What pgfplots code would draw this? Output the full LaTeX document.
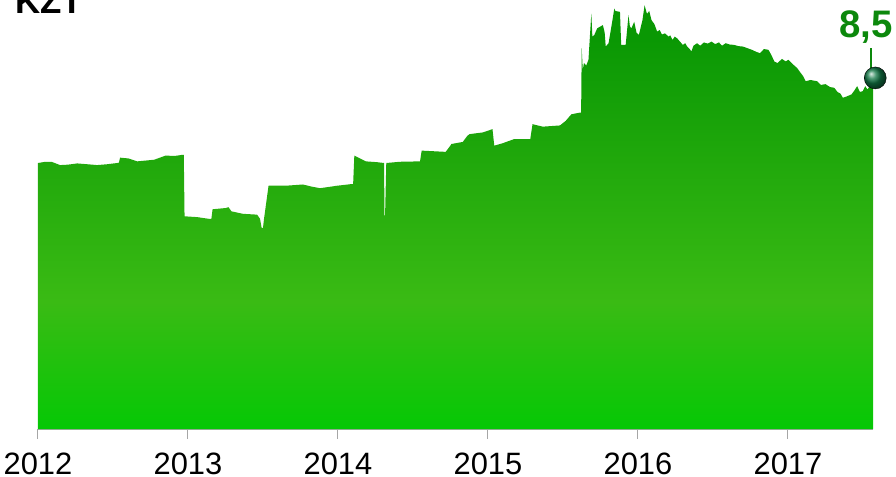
\documentclass[border=0pt]{standalone}
\usepackage{pgfplots}
\pgfplotsset{compat=1.18}
\usepackage{fontspec}
\setmainfont{Liberation Sans}
\definecolor{labgreen}{RGB}{12,136,12}
\definecolor{ballgreen}{RGB}{18,120,70}
\definecolor{gtop}{RGB}{10,152,4}
\definecolor{gmid}{RGB}{58,187,20}
\definecolor{gbot}{RGB}{5,200,5}
\pgfdeclareverticalshading{areagreen}{100bp}{color(0bp)=(gbot); color(25bp)=(gbot); color(40bp)=(gmid); color(71bp)=(gtop); color(100bp)=(gtop)}
\begin{document}
\begin{tikzpicture}
\useasboundingbox (-38bp,-48bp) rectangle (858bp,429bp);
\begin{axis}[
  at={(0,0)}, anchor=origin,
  scale only axis, width=835bp, height=429bp,
  xmin=2012, xmax=2017.567, ymin=0, ymax=10.387,
  axis x line=bottom, axis y line=none,
  axis line style={-, draw=gray!70, line width=1bp},
  xtick={2012,2013,2014,2015,2016,2017},
  xticklabels={2012,2013,2014,2015,2016,2017},
  tick align=outside, major tick length=10bp,
  tick style={draw=gray!70, line width=1bp},
  xticklabel style={anchor=base, yshift=-35.5bp, font=\fontsize{31}{31}\selectfont},
  clip=false,
]
\addplot[draw=none, shade, shading=areagreen] coordinates {
(2012.000,6.44) (2012.050,6.47) (2012.090,6.47) (2012.147,6.39) (2012.200,6.40)
(2012.261,6.43) (2012.330,6.41) (2012.394,6.39) (2012.460,6.41) (2012.528,6.44)
(2012.540,6.45) (2012.547,6.57) (2012.604,6.55) (2012.661,6.48) (2012.720,6.50)
(2012.775,6.52) (2012.851,6.62) (2012.910,6.61) (2012.966,6.64) (2012.972,6.64)
(2012.977,5.15) (2013.061,5.13) (2013.137,5.09) (2013.156,5.09) (2013.164,5.32)
(2013.251,5.35) (2013.270,5.37) (2013.290,5.27) (2013.366,5.21) (2013.461,5.19)
(2013.480,5.09) (2013.491,4.87) (2013.500,4.87) (2013.507,5.09) (2013.537,5.89)
(2013.651,5.89) (2013.766,5.92) (2013.823,5.87) (2013.880,5.83) (2013.994,5.89)
(2014.090,5.93) (2014.101,5.93) (2014.109,6.62) (2014.185,6.48) (2014.261,6.46)
(2014.307,6.44) (2014.310,5.17) (2014.314,5.17) (2014.322,6.44) (2014.413,6.47)
(2014.547,6.48) (2014.558,6.74) (2014.718,6.71) (2014.749,6.86) (2014.756,6.90)
(2014.832,6.95) (2014.863,7.10) (2014.878,7.14) (2014.966,7.18) (2015.030,7.26)
(2015.042,6.86) (2015.099,6.92) (2015.175,7.02) (2015.282,7.02) (2015.297,7.38)
(2015.366,7.32) (2015.480,7.35) (2015.518,7.46) (2015.556,7.62) (2015.613,7.66)
(2015.621,7.66) (2015.625,9.22) (2015.632,8.70) (2015.640,8.86) (2015.655,8.80) (2015.670,8.94) (2015.689,10.06)
(2015.696,9.50) (2015.709,9.54) (2015.728,9.70) (2015.766,9.78) (2015.778,9.60) (2015.785,9.26) (2015.804,9.34)
(2015.830,9.90) (2015.842,10.18) (2015.850,10.12) (2015.880,10.10) (2015.888,9.30) (2015.918,9.30)
(2015.937,10.02) (2015.946,9.75) (2015.956,9.70) (2015.975,9.86) (2015.990,9.60) (2016.006,9.54) (2016.030,9.90) (2016.044,10.26)
(2016.060,10.05) (2016.075,10.12) (2016.090,9.90) (2016.110,9.80) (2016.128,9.62) (2016.145,9.66) (2016.160,9.55) (2016.180,9.58) (2016.204,9.50) (2016.215,9.53) (2016.230,9.42)
(2016.245,9.50) (2016.261,9.46) (2016.280,9.38) (2016.299,9.30) (2016.315,9.34) (2016.330,9.25) (2016.345,9.20) (2016.356,9.14) (2016.370,9.28) (2016.394,9.34)
(2016.415,9.28) (2016.440,9.36) (2016.465,9.33) (2016.490,9.38) (2016.515,9.32) (2016.540,9.36) (2016.560,9.28) (2016.585,9.34) (2016.610,9.31) (2016.640,9.30)
(2016.670,9.27) (2016.699,9.26) (2016.730,9.22) (2016.760,9.18) (2016.790,9.13) (2016.813,9.10) (2016.840,9.20) (2016.870,9.18) (2016.890,9.05) (2016.909,8.90)
(2016.930,8.86) (2016.960,8.96) (2016.985,8.90) (2017.003,8.94) (2017.030,8.84) (2017.061,8.74) (2017.085,8.62) (2017.100,8.55) (2017.118,8.42) (2017.150,8.45) (2017.194,8.42)
(2017.220,8.33) (2017.250,8.35) (2017.280,8.28) (2017.309,8.26) (2017.330,8.16) (2017.350,8.12) (2017.366,8.02) (2017.390,8.05) (2017.423,8.10) (2017.440,8.18) (2017.461,8.30)
(2017.480,8.16) (2017.499,8.18) (2017.515,8.30) (2017.530,8.22) (2017.545,8.30) (2017.556,8.28) (2017.567,8.30)
} \closedcycle;
\draw[labgreen, line width=2.2bp] (axis cs:2017.553,9.22) -- (axis cs:2017.553,8.65);
\addplot[only marks, mark=ball, mark size=11bp, mark options={ball color=ballgreen}] coordinates {(2017.582,8.5)};
\node[anchor=base, text=labgreen, font=\bfseries\fontsize{38.5}{38.5}\selectfont, inner sep=0pt] at (axis cs:2017.52,9.49) {8,5};
\end{axis}
\node[anchor=base west, inner sep=0pt, font=\bfseries\fontsize{35}{35}\selectfont] at (-23bp,415bp) {KZT};
\end{tikzpicture}
\end{document}
